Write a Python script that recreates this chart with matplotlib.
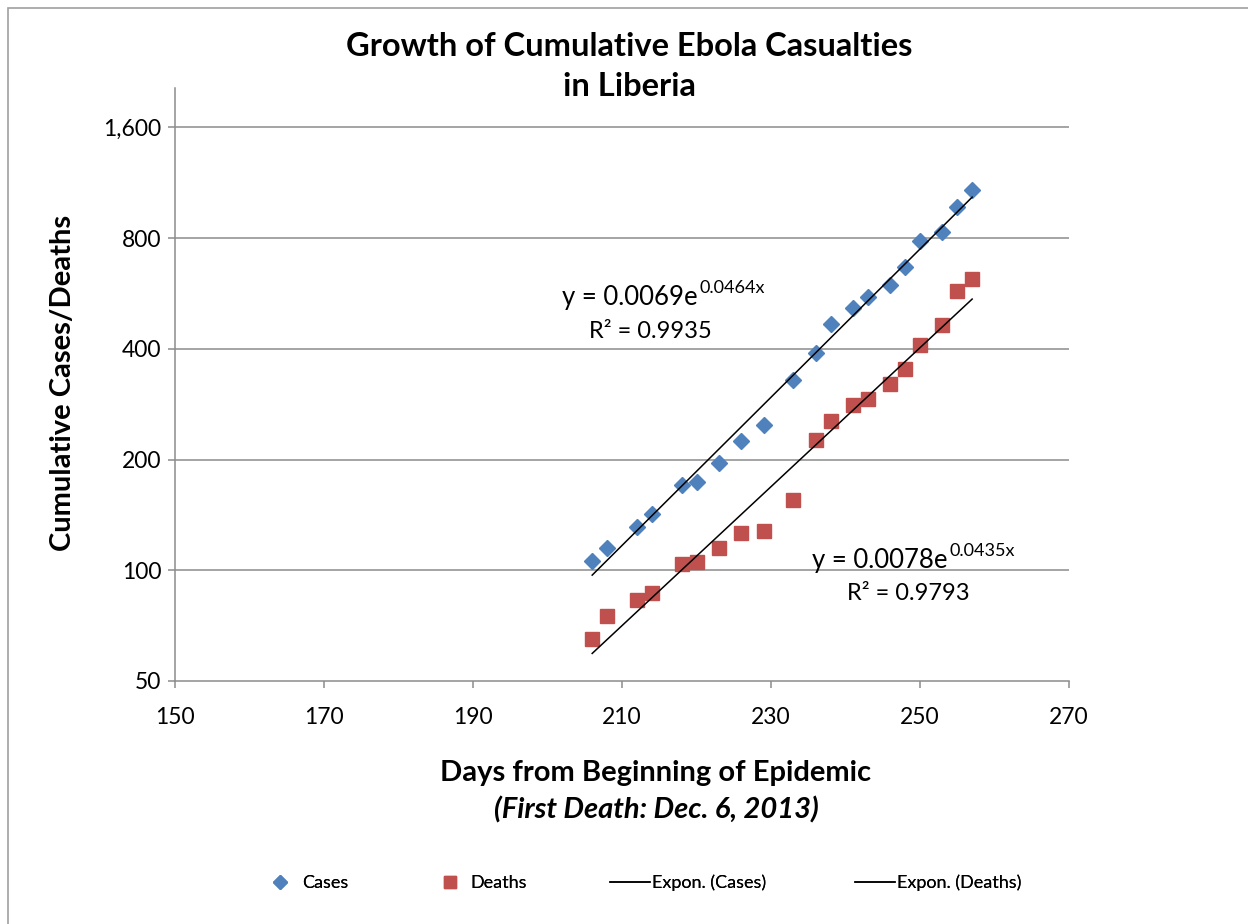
import numpy as np
import matplotlib
matplotlib.use("Agg")
from matplotlib import pyplot as plt
from matplotlib.patches import Rectangle
from matplotlib.ticker import FixedLocator, NullLocator

plt.rcParams['font.family'] = ['Lato', 'DejaVu Sans']

# days from first death and cumulative counts
days = [206, 208, 212, 214, 218, 220, 223, 226, 229, 233, 236, 238, 241, 243,
        246, 248, 250, 253, 255, 257]
cases = [106, 115, 131, 142, 171, 174, 196, 224, 248, 329, 390, 467, 517, 553,
         597, 668, 786, 832, 974, 1080]
deaths = [65, 75, 83, 87, 104, 105, 115, 126, 128, 155, 226, 254, 281, 293,
          322, 353, 411, 464, 573, 620]

y_ticks = [50, 100, 200, 400, 800, 1600]
y_ticklabels = ["50", "100", "200", "400", "800", "1,600"]
x_ticks = [150, 170, 190, 210, 230, 250, 270]

blue = "#4F81BD"
red = "#C0504D"
grid = "#8C8C8C"

W, H = 1248, 924
fig = plt.figure(figsize=(12.48, 9.24), dpi=100)
fig.patches.append(Rectangle((8 / W, -0.1), 1.2, 1 - 8 / H + 0.1,
                             transform=fig.transFigure, fill=False,
                             edgecolor="#A0A0A0", lw=1.2))

ax = fig.add_axes([175 / W, 1 - 681 / H, (1069 - 175) / W, (681 - 88) / H])

# exponential fits (least squares on log values, like Excel's trendline)
x = np.array(days, dtype=float)
bc, ac = np.polyfit(x, np.log(cases), 1)
bd, ad = np.polyfit(x, np.log(deaths), 1)
xf = np.linspace(x.min(), x.max(), 100)

l1, = ax.plot(days, cases, "D", color=blue, markersize=8.5, label="Cases", zorder=3)
l2, = ax.plot(days, deaths, "s", color=red, markersize=10, label="Deaths", zorder=3)
l3, = ax.plot(xf, np.exp(ac + bc * xf), color="black", lw=1.1, label="Expon. (Cases)", zorder=4)
l4, = ax.plot(xf, np.exp(ad + bd * xf), color="black", lw=1.1, label="Expon. (Deaths)", zorder=4)

ax.set_yscale("log")
ax.set_ylim(50, 2048)
ax.set_xlim(150, 270)
ax.yaxis.set_major_locator(FixedLocator(y_ticks))
ax.yaxis.set_minor_locator(NullLocator())
ax.set_yticklabels(y_ticklabels)
ax.set_xticks(x_ticks)
for yv in y_ticks[1:]:
    ax.axhline(yv, color=grid, lw=1.1, zorder=1)

for s in ["top", "right"]:
    ax.spines[s].set_visible(False)
for s in ["left", "bottom"]:
    ax.spines[s].set_color(grid)
    ax.spines[s].set_linewidth(1.1)
ax.tick_params(axis="both", colors=grid, labelcolor="black", labelsize=16.5,
               length=5, width=1.1)
ax.tick_params(axis="x", pad=14)
ax.tick_params(axis="y", pad=5)

ax.set_ylabel("Cumulative Cases/Deaths", fontsize=21, fontweight="bold")
ax.yaxis.set_label_coords((76 - 175) / (1069 - 175), 0.5 - (383 - 384.5) / 593)
fig.text(656 / W, 1 - 773 / H, "Days from Beginning of Epidemic",
         fontsize=21, fontweight="bold", ha="center", va="center")
fig.text(656 / W, 1 - 810 / H, "(First Death: Dec. 6, 2013)",
         fontsize=21, fontweight="bold", style="italic", ha="center", va="center")
fig.text(629 / W, 1 - 46 / H, "Growth of Cumulative Ebola Casualties",
         fontsize=23.5, fontweight="bold", ha="center", va="center")
fig.text(629 / W, 1 - 87 / H, "in Liberia",
         fontsize=23.5, fontweight="bold", ha="center", va="center")

# trendline equations
fig.text(698 / W, 1 - 305 / H, "y = 0.0069e", fontsize=18.5, ha="right", va="baseline")
fig.text(699 / W, 1 - 293 / H, "0.0464x", fontsize=13, ha="left", va="baseline")
fig.text(650 / W, 1 - 338 / H, "R² = 0.9935", fontsize=17, ha="center", va="baseline")
fig.text(948 / W, 1 - 568 / H, "y = 0.0078e", fontsize=18.5, ha="right", va="baseline")
fig.text(949 / W, 1 - 556 / H, "0.0435x", fontsize=13, ha="left", va="baseline")
fig.text(908 / W, 1 - 600 / H, "R² = 0.9793", fontsize=17, ha="center", va="baseline")

# legend entries, placed one by one like Excel's spacing
leg_items = [(l1, 270, 1.1, 0.7), (l2, 440, 1.1, 0.6),
             (l3, 610, 2.2, 0.1), (l4, 855, 2.2, 0.1)]
for h, xl, hl, tp in leg_items:
    lg = fig.legend([h], [h.get_label()], loc="center left",
                    bbox_to_anchor=(xl / W, 1 - 883 / H), frameon=False,
                    fontsize=13, borderpad=0, borderaxespad=0,
                    handlelength=hl, handletextpad=tp, markerscale=0.8)
    fig.add_artist(lg)

fig.savefig("out.png", dpi=100)
